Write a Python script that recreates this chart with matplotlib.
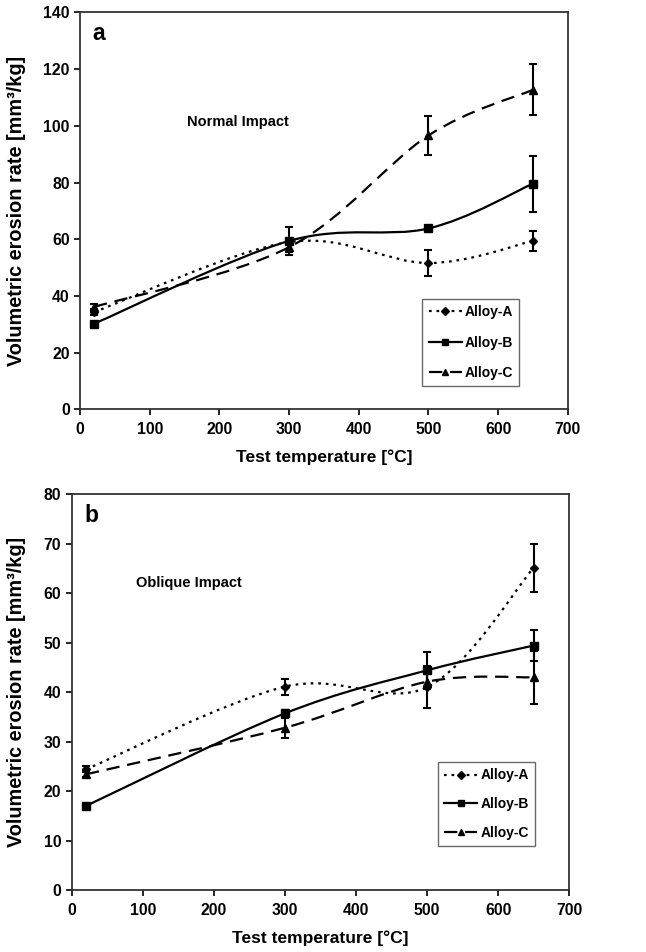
import numpy as np
import matplotlib.pyplot as plt
from matplotlib.path import Path
from matplotlib.patches import PathPatch
from matplotlib.lines import Line2D

plt.rcParams['font.family'] = ['Liberation Sans', 'DejaVu Sans']
plt.rcParams['font.weight'] = 'bold'

temps = [20, 300, 500, 650]
series_names = ["Alloy-A", "Alloy-B", "Alloy-C"]

# panel a - normal impact
normal_a = [34.3, 59.0, 51.6, 59.4]
normal_b = [30.2, 59.4, 63.8, 79.6]
normal_c = [36.1, 57.2, 96.6, 112.7]
normal_a_err = [1.0, 1.0, 4.6, 3.5]
normal_b_err = [0.6, 4.8, 0.6, 9.9]
normal_c_err = [1.0, 1.8, 6.9, 9.0]

# panel b - oblique impact
oblique_a = [24.4, 41.1, 41.0, 65.1]
oblique_b = [17.0, 35.7, 44.4, 49.4]
oblique_c = [23.4, 32.8, 42.1, 43.0]
oblique_a_err = [0.6, 1.6, 4.3, 4.8]
oblique_b_err = [0.4, 0.6, 3.7, 3.1]
oblique_c_err = [0.6, 2.0, 1.5, 5.4]

styles = [
    dict(ls=(0, (1.2, 2.2)), marker='D', ms=4.5),
    dict(ls='-', marker='s', ms=5.5),
    dict(ls=(0, (6, 3.5)), marker='^', ms=5.5),
]


def smooth_path(x, y):
    # excel-style smoothed line (bezier through the points)
    pts = np.column_stack([x, y]).astype(float)
    n = len(pts)
    verts = [pts[0]]
    codes = [Path.MOVETO]
    for i in range(n - 1):
        p0 = pts[i - 1] if i > 0 else pts[i]
        p1 = pts[i]
        p2 = pts[i + 1]
        p3 = pts[i + 2] if i + 2 < n else pts[i + 1]
        c1 = p1 + (p2 - p0) / 6.0
        c2 = p2 - (p3 - p1) / 6.0
        verts += [c1, c2, p2]
        codes += [Path.CURVE4] * 3
    return Path(verts, codes)


def draw_panel(ax, data, errs, ymax, ystep, letter, note, note_xy, ylab_x):
    for vals, err, st in zip(data, errs, styles):
        patch = PathPatch(smooth_path(temps, vals), fill=False, color='black',
                          lw=1.6, linestyle=st['ls'], capstyle='butt')
        ax.add_patch(patch)
        ax.errorbar(temps, vals, yerr=err, fmt='none', ecolor='black',
                    elinewidth=1.5, capsize=3, capthick=1.5)
        ax.plot(temps, vals, ls='none', marker=st['marker'], ms=st['ms'],
                color='black')
    ax.set_xlim(0, 700)
    ax.set_ylim(0, ymax)
    ax.set_xticks(np.arange(0, 701, 100))
    ax.set_yticks(np.arange(0, ymax + 1, ystep))
    ax.tick_params(direction='out', length=4, width=1.2, labelsize=11.3,
                   right=False, top=False)
    ax.tick_params(axis='x', pad=5)
    for lab in ax.get_xticklabels() + ax.get_yticklabels():
        lab.set_fontweight('bold')
    for sp in ax.spines.values():
        sp.set_linewidth(1.3)
        sp.set_color('#333333')
    ax.set_xlabel("Test temperature [°C]", fontsize=12.5, fontweight='bold',
                  labelpad=9)
    ax.set_ylabel("Volumetric erosion rate [mm³/kg]", fontsize=14.3,
                  fontweight='bold')
    ax.yaxis.set_label_coords(ylab_x, 0.5)
    ax.text(0.025, 0.975, letter, transform=ax.transAxes, fontsize=16.5,
            fontweight='bold', va='top', ha='left')
    ax.text(note_xy[0], note_xy[1], note, fontsize=10.5, fontweight='bold',
            va='center', ha='left')
    handles = [Line2D([], [], color='black', lw=1.6, ls=st['ls'],
                      marker=st['marker'], ms=st['ms'] - 0.5)
               for st in styles]
    return handles


fig = plt.figure(figsize=(6.46, 9.52), dpi=100)
ax1 = fig.add_axes([0.124, 0.570, 0.755, 0.417])
ax2 = fig.add_axes([0.111, 0.065, 0.770, 0.416])

h = draw_panel(ax1, [normal_a, normal_b, normal_c],
               [normal_a_err, normal_b_err, normal_c_err],
               140, 20, "a", "Normal Impact", (153, 101.5), -0.110)
leg = ax1.legend(h, series_names, loc='upper left',
                 bbox_to_anchor=(0.702, 0.279), bbox_transform=ax1.transAxes,
                 frameon=True, fancybox=False, edgecolor='#444444',
                 prop={'weight': 'bold', 'size': 10}, handlelength=2.4,
                 handletextpad=0.2, borderpad=0.45, labelspacing=1.2,
                 borderaxespad=0)
leg.get_frame().set_linewidth(1.0)

h = draw_panel(ax2, [oblique_a, oblique_b, oblique_c],
               [oblique_a_err, oblique_b_err, oblique_c_err],
               80, 10, "b", "Oblique Impact", (91, 62.1), -0.092)
leg = ax2.legend(h, series_names, loc='upper left',
                 bbox_to_anchor=(0.736, 0.323), bbox_transform=ax2.transAxes,
                 frameon=True, fancybox=False, edgecolor='#444444',
                 prop={'weight': 'bold', 'size': 10}, handlelength=2.4,
                 handletextpad=0.2, borderpad=0.45, labelspacing=1.05,
                 borderaxespad=0)
leg.get_frame().set_linewidth(1.0)

fig.savefig("out.png", dpi=100)
